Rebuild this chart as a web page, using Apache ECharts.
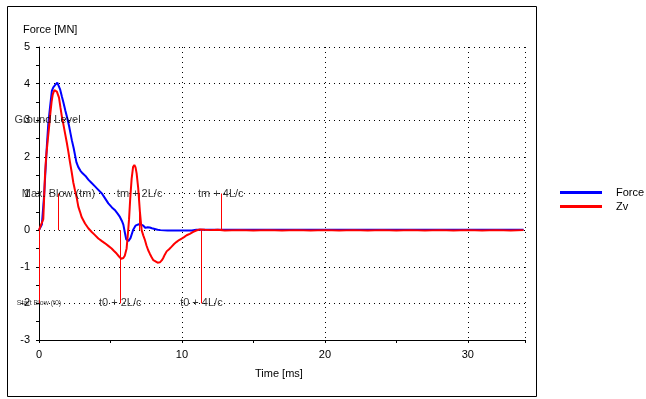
<!DOCTYPE html>
<html>
<head>
<meta charset="utf-8">
<script src="https://cdn.jsdelivr.net/npm/echarts@6/dist/echarts.min.js"></script>
<style>
html,body{margin:0;padding:0;background:#fff;}
#chart{width:646px;height:399px;}
</style>
</head>
<body>
<div id="chart"></div>
<script>
// ---- data ----
const forceTime = [0,0.2,0.35,0.45,0.55,0.65,0.77,0.9,1.0,1.15,1.28,1.35,1.47,1.6,1.7,1.85,1.95,2.1,2.2,2.3,2.42,2.52,2.62,2.75,2.9,3.05,3.25,3.45,3.65,3.9,4.1,4.4,4.6,4.85,5.1,5.3,5.5,5.66,5.8,5.9,6.0,6.1,6.25,6.4,6.5,6.6,6.75,6.95,7.15,7.3,7.45,7.6,7.75,7.9,8.1,8.3,8.5,9,10,10.7,11,12,15,20,25,30,33.9];
const forceValues = [0,0.15,0.9,1.6,2.3,2.9,3.35,3.8,3.9,3.97,4.03,3.98,3.85,3.65,3.5,3.25,3.1,2.85,2.65,2.45,2.25,2.05,1.85,1.72,1.62,1.55,1.48,1.38,1.3,1.2,1.12,1.0,0.88,0.73,0.62,0.55,0.45,0.36,0.25,0.15,-0.05,-0.25,-0.3,-0.22,-0.1,0.02,0.12,0.16,0.15,0.12,0.06,0.08,0.07,0.05,0.03,0.01,0,-0.01,-0.01,-0.01,0.01,0.01,0.01,0.01,0.01,0.01,0.01];

const zvTime = [0,0.15,0.3,0.42,0.5,0.61,0.7,0.77,0.88,0.96,1.07,1.15,1.25,1.4,1.5,1.6,1.7,1.82,1.94,2.05,2.17,2.28,2.4,2.52,2.63,2.75,2.87,2.98,3.1,3.22,3.45,3.69,3.9,4.15,4.4,4.62,4.85,5.08,5.25,5.43,5.6,5.75,5.9,6.0,6.13,6.22,6.3,6.38,6.48,6.58,6.67,6.75,6.83,6.94,7.06,7.18,7.3,7.41,7.52,7.64,7.76,7.88,8.0,8.11,8.3,8.46,8.6,8.69,8.8,8.93,9.1,9.28,9.45,9.63,9.8,9.98,10.15,10.33,10.55,10.79,11.0,11.26,11.6,12,12.5,13,14,15,16,17,18,19,20,21,22,23,24,25,26,27,28,29,30,31,32,33,33.9];
const zvValues = [0,0.15,0.3,1.5,2.0,2.45,2.8,3.1,3.5,3.7,3.82,3.83,3.78,3.62,3.35,3.1,2.9,2.65,2.4,2.15,1.85,1.6,1.3,1.08,0.9,0.64,0.5,0.36,0.27,0.18,0.05,-0.05,-0.13,-0.23,-0.3,-0.36,-0.43,-0.5,-0.57,-0.64,-0.72,-0.78,-0.76,-0.7,-0.5,-0.1,0.3,0.85,1.4,1.72,1.78,1.72,1.55,1.15,0.5,0.0,-0.15,-0.27,-0.42,-0.55,-0.65,-0.74,-0.82,-0.87,-0.89,-0.88,-0.82,-0.76,-0.67,-0.58,-0.52,-0.45,-0.38,-0.32,-0.27,-0.23,-0.19,-0.14,-0.1,-0.05,-0.01,0.02,0.01,0.0,0.01,-0.01,0.0,-0.01,0.0,-0.01,0.0,-0.01,0.0,-0.01,0.0,-0.01,0.0,-0.01,0.0,-0.01,0.0,-0.01,0.0,-0.01,0.0,-0.01,0.0,-0.01,0.0];

// event markers (vertical red lines from 0 to the given level)
const markerTimes = [0, 1.36, 5.68, 7.04, 11.36, 12.72];
const markerLevels = [-2, 1, -2, 1, -2, 1];

// annotation texts
const noteTexts = ['Ground Level', 'Max. Blow (tm)', 'tm + 2L/c', 'tm + 4L/c', 't0 + 2L/c', 't0 + 4L/c'];
const noteTimes = [0.6, 1.36, 7.04, 12.72, 5.68, 11.36];
const noteValues = [3, 1, 1, 1, -2, -2];
const smallNoteTexts = ['Start Blow (t0)'];
const smallNoteTimes = [0];
const smallNoteValues = [-2];

const xTicks = {min: 0, max: 34, interval: 10};
const yTicks = {min: -3, max: 5, interval: 1};

const seriesNames = ['Force', 'Zv'];

// ---- chart ----
const FONT = 'Liberation Sans, Arial, sans-serif';
const zip = (a, b) => a.map((v, i) => [v, b[i]]);

const chart = echarts.init(document.getElementById('chart'), null, {renderer: 'canvas'});
chart.setOption({
  animation: false,
  backgroundColor: '#fff',
  textStyle: {fontFamily: FONT},
  grid: {left: 39, top: 47, width: 486, height: 293, containLabel: false},
  legend: {
    left: 560, top: 186, orient: 'vertical', padding: 0,
    icon: 'rect', itemWidth: 42, itemHeight: 3, itemGap: 1,
    data: seriesNames,
    textStyle: {fontFamily: FONT, fontSize: 11, color: '#000', padding: [0, 0, 0, 9], lineHeight: 13}
  },
  xAxis: {
    type: 'value', min: xTicks.min, max: xTicks.max, interval: xTicks.interval,
    axisLine: {show: true, onZero: false, lineStyle: {color: '#000', width: 1}},
    axisTick: {show: true, length: 3, lineStyle: {color: '#000'}},
    minorTick: {show: true, splitNumber: 2, length: 3, lineStyle: {color: '#000'}},
    axisLabel: {color: '#000', fontSize: 11, fontFamily: FONT, margin: 9,
      showMaxLabel: false},
    splitLine: {show: true, lineStyle: {color: '#000', type: [1, 4], width: 1}}
  },
  yAxis: {
    type: 'value', min: yTicks.min, max: yTicks.max, interval: yTicks.interval,
    axisLine: {show: true, onZero: false, lineStyle: {color: '#000', width: 1}},
    axisTick: {show: true, length: 3, lineStyle: {color: '#000'}},
    minorTick: {show: true, splitNumber: 2, length: 3, lineStyle: {color: '#000'}},
    axisLabel: {color: '#000', fontSize: 11, fontFamily: FONT, margin: 9},
    splitLine: {show: true, lineStyle: {color: '#000', type: [1, 4], width: 1}}
  },
  graphic: [
    {type: 'rect', silent: true, z: -1,
      shape: {x: 7.5, y: 6.5, width: 529, height: 390},
      style: {fill: 'none', stroke: '#000', lineWidth: 1}},
    {type: 'text', left: 23, top: 24,
      style: {text: 'Force [MN]', font: '11px ' + FONT, fill: '#000'}},
    {type: 'text', left: 255, top: 368,
      style: {text: 'Time [ms]', font: '11px ' + FONT, fill: '#000'}}
  ],
  series: [
    {
      name: seriesNames[0], type: 'line', data: zip(forceTime, forceValues),
      showSymbol: false, symbol: 'none', lineStyle: {color: '#0000ff', width: 2},
      itemStyle: {color: '#0000ff'}, z: 3
    },
    {
      name: seriesNames[1], type: 'line', data: zip(zvTime, zvValues),
      showSymbol: false, symbol: 'none', lineStyle: {color: '#ff0000', width: 2},
      itemStyle: {color: '#ff0000'}, z: 4,
      markLine: {
        silent: true, symbol: ['none', 'none'], animation: false,
        lineStyle: {color: '#ff0000', width: 1, type: 'solid'},
        label: {show: false},
        data: markerTimes.map((t, i) => [{coord: [t, 0]}, {coord: [t, markerLevels[i]]}])
      }
    },
    {
      name: 'notes', type: 'scatter', symbolSize: 0, silent: true, z: 5,
      data: noteTexts.map((s, i) => ({name: s, value: [noteTimes[i], noteValues[i]]})),
      label: {show: true, position: 'inside', formatter: '{b}', color: '#000',
        fontSize: 11, fontFamily: FONT}
    },
    {
      name: 'smallNotes', type: 'scatter', symbolSize: 0, silent: true, z: 5,
      data: smallNoteTexts.map((s, i) => ({name: s, value: [smallNoteTimes[i], smallNoteValues[i]]})),
      label: {show: true, position: 'inside', formatter: '{b}', color: '#000',
        fontSize: 7, fontFamily: FONT}
    }
  ]
});
</script>
</body>
</html>
